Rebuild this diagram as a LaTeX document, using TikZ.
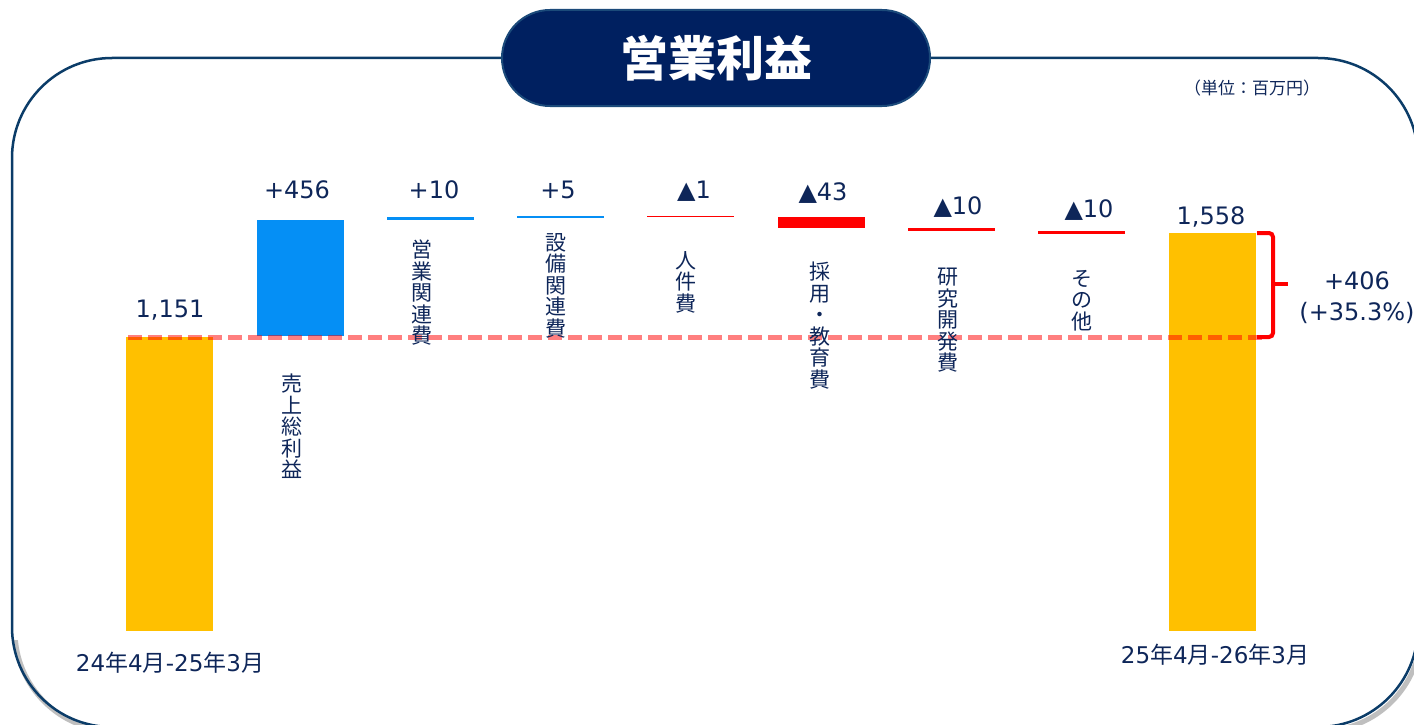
\documentclass[tikz,border=0pt]{standalone}
\usepackage{fontspec}
\setmainfont{DejaVu Sans}
\newfontfamily\jp{Noto Sans CJK JP}
\definecolor{barY}{HTML}{FFC000}
\definecolor{barB}{HTML}{058FF5}
\definecolor{navytext}{HTML}{0E2659}
\definecolor{framecol}{HTML}{0B3C68}
\definecolor{pillfill}{HTML}{002060}
\definecolor{pillborder}{HTML}{1B4A7A}
\begin{document}
\begin{tikzpicture}[x=1pt,y=-1pt,
  txt/.style={text=navytext, inner sep=0pt},
  num/.style={txt, font=\fontsize{24}{31}\selectfont},
  datelab/.style={txt, font=\fontsize{23}{26}\selectfont},
  vlab/.style={txt, anchor=north, align=center, font=\jp\fontsize{21}{21.5}\selectfont},
  ybar/.style={fill=barY},
  bbar/.style={fill=barB},
  pill/.style={draw=pillborder, fill=pillfill, line width=2pt, minimum width=428pt,
    minimum height=96pt, rounded corners=48pt, text=white, inner sep=0pt,
    font=\jp\bfseries\fontsize{48}{52}\selectfont},
  baseline/.style={draw=red, opacity=0.5, line width=5pt, dash pattern=on 14pt off 6pt},
  bracecol/.style={draw=red, line width=4pt},
]
\useasboundingbox (0,0) rectangle (1414,725);
% shadow of frame (bottom only)
\begin{scope}
  \clip (0,640) rectangle (1414,725);
  \draw[black!25, line width=5pt, rounded corners=100pt] (15,62) rectangle (1421,731);
\end{scope}
% frame
\draw[draw=framecol, line width=2.5pt, rounded corners=100pt] (12,58) rectangle (1418,727);
% title pill
\node[pill] (title) at (716,58) {営業利益};
\node[txt, font=\jp\fontsize{17}{20}\selectfont] (unit) at (1252,88) {（単位：百万円）};

% bars
\fill[ybar] (126,337) rectangle (213,631);
\fill[bbar] (257,220) rectangle (344,336);
\draw[draw=barB, line width=3pt] (387,218) -- (474,218);
\draw[draw=barB, line width=2pt] (517,217) -- (604,217);
\draw[draw=red, line width=1pt] (647,216) -- (734,216);
\fill[red] (778,217) rectangle (865,228);
\draw[draw=red, line width=3pt] (908,229) -- (995,229);
\draw[draw=red, line width=3pt] (1038,232) -- (1125,232);
\fill[ybar] (1169,233) rectangle (1256,631);

% dashed baseline
\coordinate (bl0) at (128,337);
\coordinate (bl1) at (1262,337);
\draw[baseline] (bl0) -- (bl1);

% brace
\coordinate (br0) at (1257,233);
\coordinate (br1) at (1273,233);
\coordinate (br2) at (1273,337);
\coordinate (br3) at (1257,337);
\coordinate (brm) at (1273,284);
\coordinate (brt) at (1288,284);
\draw[bracecol, rounded corners=4pt] (br0) -- (br1) -- (br2) -- (br3);
\draw[bracecol] (brm) -- (brt);

% value labels
\node[num] (v0) at (170,310) {1,151};
\node[num] (v1) at (297,190) {+456};
\node[num] (v2) at (434,190) {+10};
\node[num] (v3) at (558,190) {+5};
\node[num] (v4) at (694,191) {▲1};
\node[num] (v5) at (823,193) {▲43};
\node[num] (v6) at (958,207) {▲10};
\node[num] (v7) at (1089,210) {▲10};
\node[num] (v8) at (1211,217) {1,558};
\node[num, align=center] (diff) at (1357,298) {+406\\(+35.3\%)};

% vertical category labels
\node[vlab] (l1) at (292,374) {売\\上\\総\\利\\益};
\node[vlab] (l2) at (422,240) {営\\業\\関\\連\\費};
\node[vlab] (l3) at (556,233) {設\\備\\関\\連\\費};
\node[vlab] (l4) at (686,251) {人\\件\\費};
\node[vlab] (l5) at (820,262) {採\\用\\・\\教\\育\\費};
\node[vlab] (l6) at (948,268) {研\\究\\開\\発\\費};
\node[vlab] (l7) at (1082,270) {そ\\の\\他};

% period labels
\node[datelab] (d0) at (170,663) {24{\jp 年}4{\jp 月}-25{\jp 年}3{\jp 月}};
\node[datelab] (d1) at (1215,655) {25{\jp 年}4{\jp 月}-26{\jp 年}3{\jp 月}};
\end{tikzpicture}
\end{document}
